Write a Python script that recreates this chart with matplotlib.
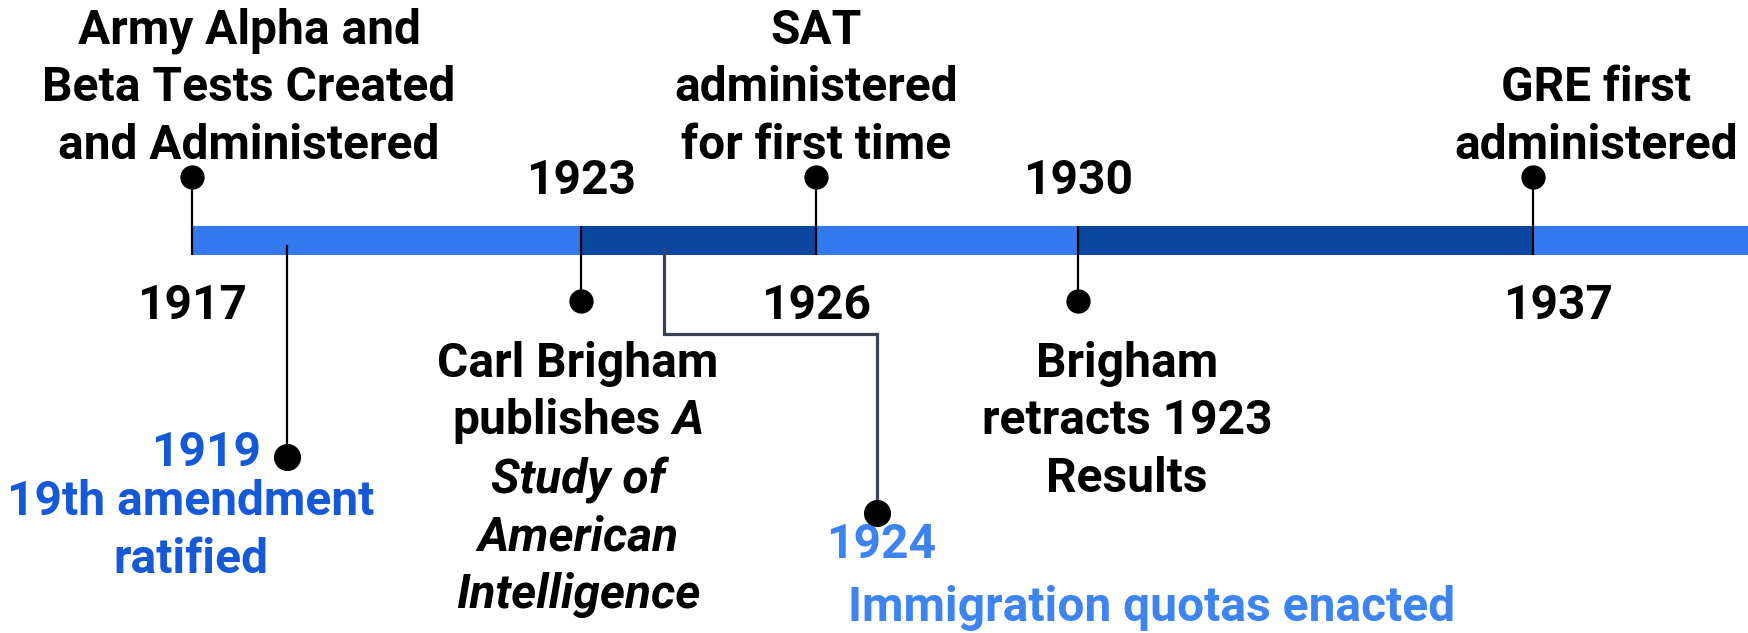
import numpy as np
import matplotlib
matplotlib.use("Agg")
import matplotlib.pyplot as plt

# ---------------- data ----------------
bar_bounds = [1917, 1923, 1926, 1930, 1937]        # period boundaries on the timeline
top_years = [1917, 1926, 1937]
top_labels = ["Army Alpha and\nBeta Tests Created\nand Administered",
              "SAT\nadministered\nfor first time",
              "GRE first\nadministered"]
bottom_years = [1923, 1930]
bottom_labels = ["Carl Brigham", "Brigham\nretracts 1923\nResults"]
book_title = ["A", "Study of\nAmerican\nIntelligence"]
context_years = [1919, 1924]
context_labels = ["19th amendment\nratified", "Immigration quotas enacted"]

# ---------------- style / layout ----------------
W, H, DPI = 1748, 633, 100
LIGHT, DARK = "#337AF0", "#0B46A1"
BLUE1, BLUE2 = "#1559D6", "#3D84F1"
FONT = ["Roboto", "DejaVu Sans"]
FS = 34.5
LS = 1.32

# piecewise timeline scale (year -> pixel along the timeline)
anchor_years = np.array([1890.0, 1912.9, 1917, 1919, 1923, 1924, 1926, 1930, 1937, 1940.35, 1970.0])
anchor_px = np.array([-1800.0, 0, 192, 287, 581, 664, 816, 1078, 1533, 1748, 3700.0])


def fwd(x):
    return np.interp(x, anchor_years, anchor_px)


def inv(p):
    return np.interp(p, anchor_px, anchor_years)


plt.rcParams["font.family"] = FONT
plt.rcParams["font.weight"] = "bold"

fig = plt.figure(figsize=(W / DPI, H / DPI), dpi=DPI)
ax = fig.add_axes([0, 0, 1, 1])
ax.set_xscale("function", functions=(fwd, inv))
ax.set_xlim(1912.9, 1940.35)
ax.set_ylim(H, 0)
ax.axis("off")

# bar segments
bounds = np.array(bar_bounds + [1940.35])
seg_colors = [LIGHT if i % 2 == 0 else DARK for i in range(len(bounds) - 1)]
ax.barh(240.5, np.diff(bounds), left=bounds[:-1], height=29, color=seg_colors, zorder=1)

# top events
ax.vlines(top_years, 177, 255, color="black", lw=1.6, zorder=3)
ax.plot(top_years, [177] * len(top_years), "o", ms=16.5, color="black", zorder=4)
# bottom events
ax.vlines(bottom_years, 226, 301, color="black", lw=1.6, zorder=3)
ax.plot(bottom_years, [301] * len(bottom_years), "o", ms=16.5, color="black", zorder=4)

# context events
y19 = context_years[0]
ax.vlines([y19], 245, 457, color="black", lw=1.6, zorder=3)
ax.plot([y19], [457], "o", ms=18.5, color="black", zorder=4)

y24 = context_years[1]
x24 = inv(fwd(y24) + 213)
ax.plot([y24, y24, x24, x24], [250, 334, 334, 513], color="#3A4253", lw=2.3,
        solid_joinstyle="miter", zorder=3)
ax.plot([x24], [513], "o", ms=18.5, color="black", zorder=4)


def lab(s, xy, dx, ha="center", color="black", size=FS, style="normal"):
    return ax.annotate(s, xy=xy, xytext=(dx, 0), textcoords="offset pixels",
                       ha=ha, va="baseline", color=color, fontsize=size,
                       fontweight="bold", fontstyle=style, linespacing=LS,
                       multialignment="center", zorder=5)


# year labels
for yr in top_years:
    lab(str(yr), (yr, 319), 25 if yr == 1937 else 0)
for yr in bottom_years:
    lab(str(yr), (yr, 194), 0)

# descriptions for top events (baseline of last line)
top_offsets = [57, 0, 63]
for yr, s, dx in zip(top_years, top_labels, top_offsets):
    lab(s, (yr, 159), dx)

# bottom descriptions
lab(bottom_labels[0], (1923, 377), -3)
lab(book_title[1], (1923, 608), -3, style="italic")
lab(bottom_labels[1], (1930, 492), 49)

# "publishes A" with mixed style
t1 = lab("publishes", (1923, 434), 0, ha="left")
t2 = lab(book_title[0], (1923, 434), 0, ha="left", style="italic")
fig.canvas.draw()
r = fig.canvas.get_renderer()
w1 = t1.get_window_extent(r).width
w2 = t2.get_window_extent(r).width
gap = 11
total = w1 + gap + w2
left = -3 - total / 2
t1.set_position((left, 0))
t2.set_position((left + w1 + gap, 0))

# context labels
lab(str(y19), (y19, 466), -26, ha="right", color=BLUE1)
lab(context_labels[0], (y19, 573), -96, color=BLUE1)
ax.annotate(str(y24), xy=(x24, 558), xytext=(-51, 0), textcoords="offset pixels",
            ha="left", va="baseline", color=BLUE2, fontsize=FS, fontweight="bold")
lab(context_labels[1], (x24, 621), 275, color=BLUE2)

fig.savefig("out.png", dpi=DPI)
